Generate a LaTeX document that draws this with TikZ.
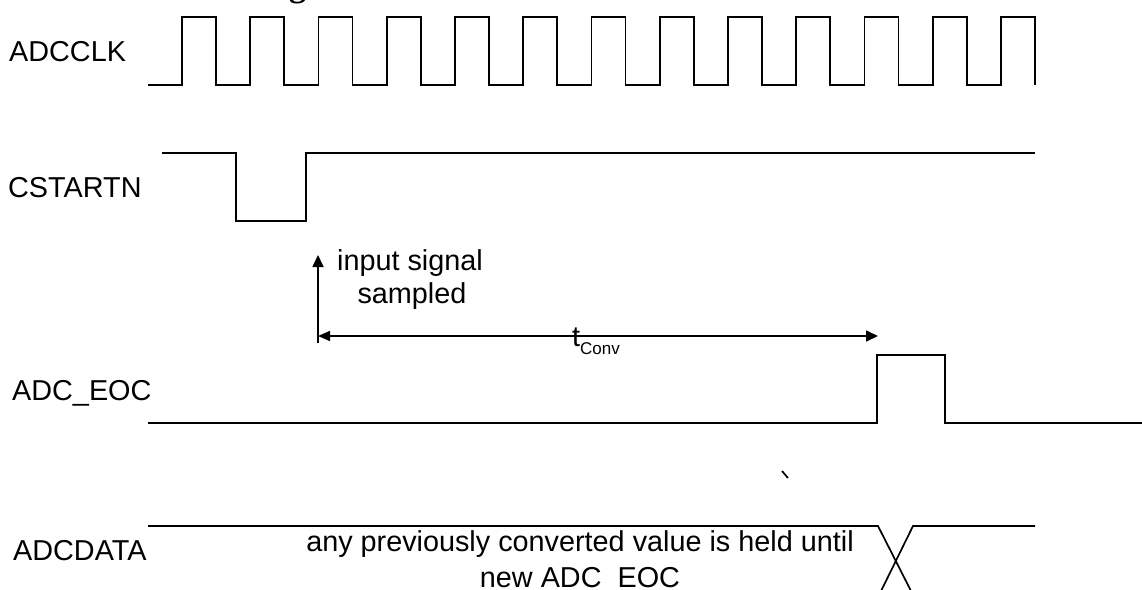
\documentclass[tikz,border=0pt]{standalone}
\usepackage{fontspec}
\setmainfont{Liberation Sans}
\newfontfamily\titlefont{Liberation Serif}
\usetikzlibrary{arrows.meta}
\tikzset{
  wave/.style={line width=1.7pt, line join=miter},
  lbl/.style={inner sep=0pt, anchor=base west, font=\fontsize{28.8}{33}\selectfont},
  txt/.style={inner sep=0pt, anchor=base, font=\fontsize{28.8}{33}\selectfont},
  dimarrow/.style={line width=1.7pt},
}
\begin{document}
\begin{tikzpicture}[x=1pt,y=-1pt]
\useasboundingbox (0,0) rectangle (1142,589);
\begin{scope}
\clip (0,0) rectangle (1142,589);
\fill[white] (0,0) rectangle (1142,589);

% fragment of a title above the picture
\node[inner sep=0pt, anchor=base west, font=\titlefont\bfseries\fontsize{34}{34}\selectfont] (title) at (289,-3.5) {g};

% signal names
\node[lbl] (lclk) at (9,61) {ADCCLK};
\node[lbl] (lstart) at (8,197) {CSTARTN};
\node[lbl] (leoc) at (12,400) {ADC\_EOC};
\node[lbl] (ldata) at (13,560) {ADCDATA};

% ADCCLK
\draw[wave] (148,85) \foreach \k in {0,...,12} {
  -- ({182+68.25*\k},85) -- ({182+68.25*\k},17)
  -- ({216+68.25*\k},17) -- ({216+68.25*\k},85) };

% CSTARTN
\draw[wave] (162,153) -- (236,153) -- (236,221) -- (306,221) -- (306,153) -- (1035,153);

% sampling marker and conversion time
\coordinate (vbot) at (318,343);
\coordinate (vtop) at (318,255);
\coordinate (cstart) at (318,336);
\coordinate (cend) at (878,336);
\draw[dimarrow, -{Triangle[length=12pt,width=11pt]}] (vbot) -- (vtop);
\draw[dimarrow, {Triangle[length=12pt,width=10pt]}-{Triangle[length=12pt,width=11pt]}] (cstart) -- (cend);
\node[txt] (samp1) at (410,270) {input signal};
\node[txt] (samp2) at (412,303) {sampled};
\node[inner sep=0pt, anchor=base west, font=\fontsize{28.8}{33}\selectfont] (tconv) at (572,346)
  {t\raisebox{-8pt}{\fontsize{17}{17}\selectfont Conv}};

% ADC_EOC
\draw[wave] (148,423) -- (877,423) -- (877,355) -- (945,355) -- (945,423) -- (1142,423);

% stray tick
\draw[line width=1.7pt] (782,471) -- (788,478);

% ADCDATA
\draw[wave] (148,526) -- (878,526) -- (915.6,600);
\draw[wave] (1035,526) -- (913,526) -- (876.6,600);
\node[txt] (d1) at (580,551) {any previously converted value is held until};
\node[txt] (d2) at (580,587) {new ADC\_EOC};
\end{scope}
\end{tikzpicture}
\end{document}
